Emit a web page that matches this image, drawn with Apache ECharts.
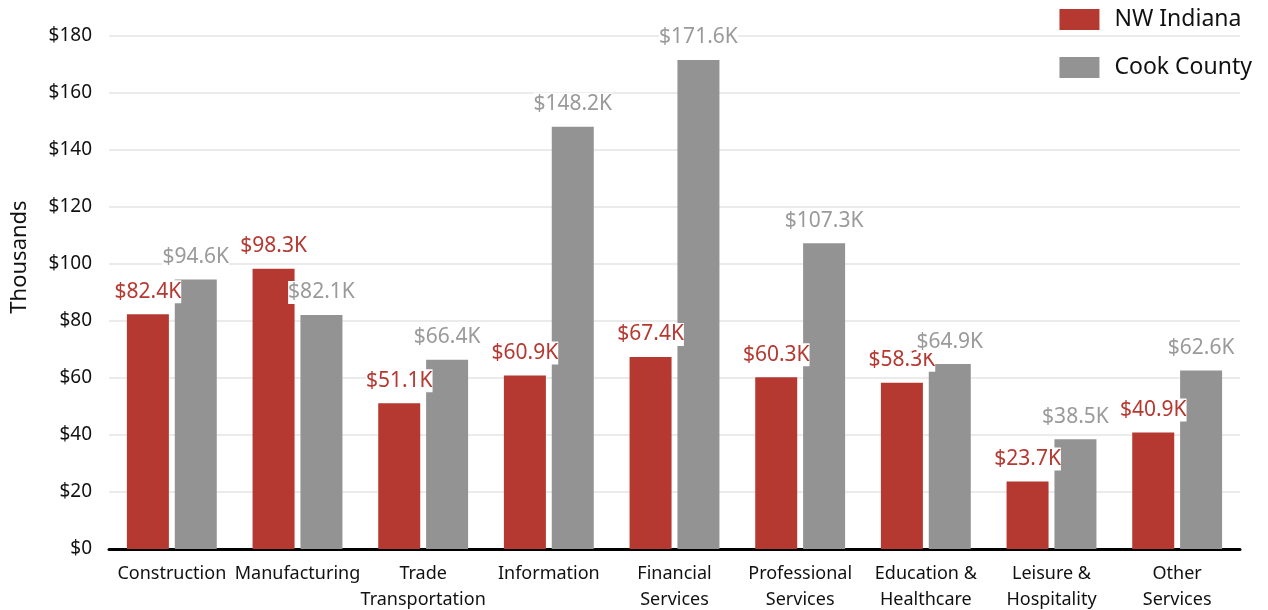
<!DOCTYPE html>
<html>
<head>
<meta charset="utf-8">
<script src="https://cdn.jsdelivr.net/npm/echarts@6/dist/echarts.min.js"></script>
<style>html,body{margin:0;padding:0;background:#fff}#c{width:1268px;height:610px}</style>
</head>
<body>
<div id="c"></div>
<script>
const categories = ['Construction','Manufacturing','Trade\nTransportation','Information','Financial\nServices','Professional\nServices','Education &\nHealthcare','Leisure &\nHospitality','Other\nServices'];
const nwIndiana = [82.4, 98.3, 51.1, 60.9, 67.4, 60.3, 58.3, 23.7, 40.9];
const cookCounty = [94.6, 82.1, 66.4, 148.2, 171.6, 107.3, 64.9, 38.5, 62.6];
const seriesNames = ['NW Indiana','Cook County'];
const axisTitle = 'Thousands';
const RED = '#B53931', GRAY = '#939393';
const FONT = 'Noto Sans';
const chart = echarts.init(document.getElementById('c'));
function lbl(color, z2){
  return {show:true, position:'top', distance:11, color:color, fontSize:21, fontFamily:FONT,
    backgroundColor:'#fff', padding:[1,0], formatter: p => '$' + p.value.toFixed(1) + 'K'};
}
chart.setOption({
  animation:false,
  textStyle:{fontFamily:FONT},
  grid:{left:109, right:28, top:36, bottom:61, outerBoundsMode:'none', containLabel:false},
  graphic:[{type:'text', x:20, y:257, rotation:Math.PI/2,
    style:{text:axisTitle, fontSize:22, fill:'#111', fontFamily:FONT, align:'center', verticalAlign:'middle'}}],
  legend:{orient:'vertical', right:11, top:3, itemWidth:40, itemHeight:21, itemGap:25,
    icon:'rect', textStyle:{fontSize:23, color:'#111', fontFamily:FONT, padding:[0,0,0,10]},
    data:seriesNames},
  xAxis:{type:'category', data:categories,
    axisLine:{lineStyle:{color:'#000', width:3}}, axisTick:{show:false},
    axisLabel:{fontSize:18, color:'#111', lineHeight:26, margin:12, interval:0, fontFamily:FONT}},
  yAxis:{type:'value', min:0, max:180, interval:20,
    axisLine:{show:false}, axisTick:{show:false},
    axisLabel:{fontSize:19, color:'#111', margin:17, formatter:v => '$' + v, fontFamily:FONT},
    splitLine:{lineStyle:{color:'#ebebeb', width:2}}},
  series:[
    {name:seriesNames[0], type:'bar', data:nwIndiana, barWidth:42, barGap:'14%', itemStyle:{color:RED}, label:lbl(RED), z:2},
    {name:seriesNames[1], type:'bar', data:cookCounty, barWidth:42, itemStyle:{color:GRAY}, label:lbl('#9a9a9a'), z:2}
  ]
});
</script>
</body>
</html>
